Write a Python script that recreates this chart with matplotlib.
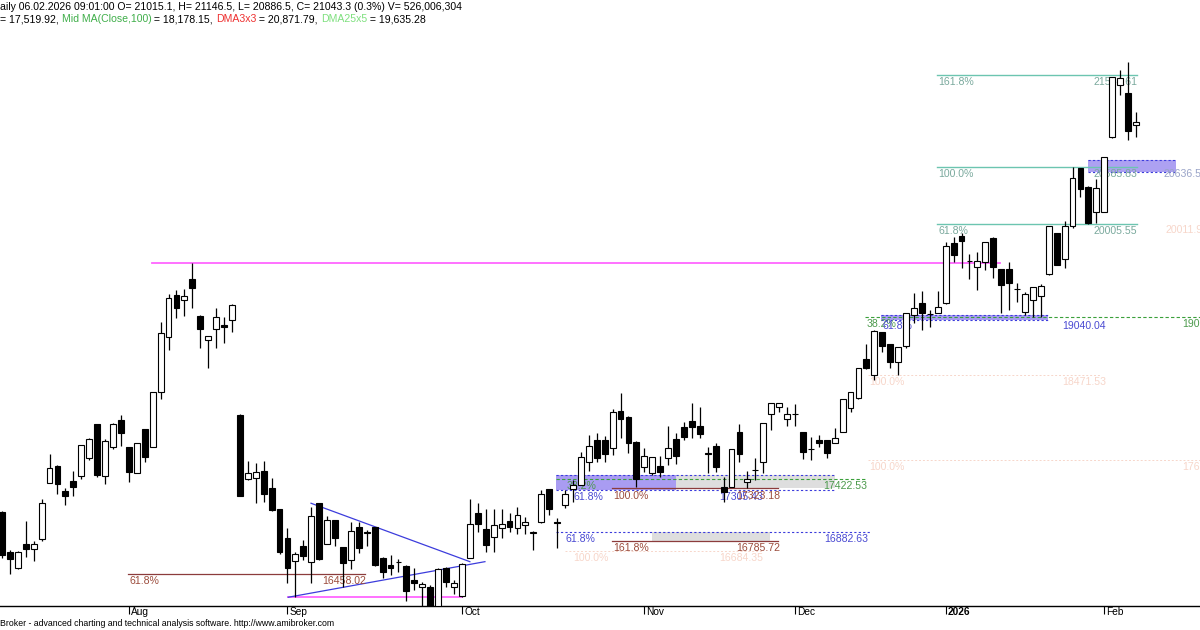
import matplotlib
matplotlib.use('Agg')
import matplotlib.pyplot as plt
from matplotlib.patches import Rectangle

# ---------------- data (daily candles, Jul 2025 - Feb 2026) ----------------
opens = [
    17088, 16682, 16519, 16760, 16709, 16811, 17382, 17555, 17301, 17402,
    17450, 17633, 17975, 17453, 17741, 18019, 17741, 17484, 17927, 17741,
    18300, 18861, 19287, 19237, 19450, 19074, 18831, 18939, 18983, 19031,
    18069, 17417, 17433, 17504, 17325, 17112, 16818, 16587, 16740, 16580,
    17173, 16760, 17004, 16726, 16598, 16929, 16882, 16929, 16621, 16550,
    16580, 16540, 16392, 16327, 16324, 16131, 16519, 16327, 16235, 16621,
    17072, 16909, 16834, 16925, 16996, 16919, 16953, 16869, 16986, 17315,
    16983, 17156, 17318, 17359, 17595, 17816, 17816, 17731, 18110, 18052,
    17798, 17538, 17478, 17555, 17630, 17826, 17951, 18011, 17961, 17687,
    17758, 17342, 17342, 17900, 17392, 17511, 17589, 18076, 18147, 18026,
    18076, 17894, 17721, 17816, 17816, 17782, 17900, 18137, 18239, 18638,
    18475, 18907, 18787, 18602, 18770, 19079, 19203, 19091, 19108, 19203,
    19818, 19889, 19632, 19575, 19619, 19869, 19548, 19548, 19345, 19118,
    19237, 19280, 19497, 19914, 19653, 19991, 20573, 20387, 20127, 20133,
    20894, 21419, 21335, 21015.1]
highs = [
    17095, 16699, 16689, 16993, 16790, 17217, 17676, 17560, 17328, 17501,
    17765, 17839, 17980, 17823, 17985, 18069, 17745, 17788, 17930, 18303,
    19016, 19294, 19338, 19348, 19609, 19080, 18875, 19152, 19067, 19193,
    18075, 17605, 17579, 17605, 17433, 17115, 16925, 16682, 16800, 17132,
    17179, 17044, 17005, 16730, 16986, 16986, 16902, 16935, 16625, 16648,
    16605, 16545, 16516, 16371, 16344, 16513, 16525, 16395, 16570, 17217,
    17173, 17112, 17112, 17112, 17078, 17132, 17037, 16890, 17308, 17320,
    17021, 17308, 17410, 17697, 17866, 17884, 17859, 18127, 18290, 18055,
    17800, 17731, 17640, 17656, 17961, 17884, 18001, 18188, 18154, 17748,
    17782, 17437, 17721, 17975, 17501, 17630, 17985, 18188, 18195, 18147,
    18178, 17900, 17849, 17866, 17820, 17934, 18229, 18306, 18543, 18787,
    18932, 18910, 18790, 18756, 19102, 19305, 19328, 19135, 19328, 19828,
    19879, 19914, 19700, 19721, 19822, 19875, 19555, 19619, 19406, 19315,
    19372, 19396, 19991, 19920, 20038, 20590, 20576, 20390, 20465, 20691,
    21503, 21571, 21649, 21146.5]
lows = [
    16618, 16455, 16506, 16631, 16587, 16790, 17375, 17267, 17156, 17247,
    17420, 17612, 17443, 17366, 17724, 17758, 17392, 17480, 17595, 17740,
    18232, 18726, 19051, 19074, 19158, 18746, 18543, 18752, 18797, 18915,
    17245, 17410, 17173, 17183, 17095, 16658, 16364, 16219, 16598, 16361,
    16600, 16755, 16740, 16327, 16503, 16666, 16743, 16540, 16412, 16445,
    16479, 16184, 16293, 16131, 16070, 16070, 16327, 16252, 16219, 16615,
    16885, 16682, 16682, 16818, 16885, 16861, 16861, 16699, 16970, 17054,
    16716, 17125, 17189, 17355, 17504, 17595, 17595, 17663, 17833, 17687,
    17342, 17494, 17460, 17443, 17562, 17572, 17816, 17833, 17833, 17484,
    17494, 17189, 17335, 17595, 17325, 17410, 17478, 17917, 18097, 17958,
    17958, 17620, 17613, 17748, 17630, 17780, 17895, 18103, 18235, 18538,
    18425, 18712, 18543, 18475, 18746, 19000, 18932, 18966, 19105, 19200,
    19625, 19558, 19450, 19338, 19541, 19457, 19102, 19135, 19219, 19084,
    19067, 19067, 19490, 19587, 19558, 19970, 20285, 20010, 20015, 20130,
    20878, 21317, 20861, 20886.5]
closes = [
    16648, 16608, 16682, 16709, 16760, 17176, 17531, 17372, 17244, 17335,
    17765, 17823, 17460, 17805, 17975, 17890, 17488, 17788, 17640, 18300,
    18899, 19254, 19152, 19274, 19355, 18942, 18871, 19067, 18966, 19186,
    17250, 17484, 17494, 17270, 17102, 16682, 16513, 16658, 16638, 17047,
    16605, 17004, 16818, 16570, 16892, 16722, 16872, 16547, 16479, 16513,
    16577, 16280, 16367, 16354, 16131, 16503, 16377, 16361, 16554, 16960,
    16960, 16750, 16953, 16960, 16929, 17054, 16980, 16885, 17264, 17115,
    16973, 17264, 17359, 17646, 17755, 17636, 17673, 18103, 18029, 17782,
    17417, 17656, 17640, 17494, 17731, 17653, 17849, 17951, 17876, 17670,
    17545, 17291, 17721, 17673, 17417, 17515, 17985, 18188, 18188, 18076,
    18080, 17691, 17724, 17788, 17681, 17833, 18229, 18306, 18543, 18543,
    18925, 18765, 18610, 18756, 19102, 19155, 19102, 19089, 19162, 19785,
    19693, 19835, 19627, 19635, 19822, 19575, 19389, 19406, 19343, 19294,
    19372, 19379, 19991, 19592, 19991, 20472, 20363, 20015, 20370, 20691,
    21503, 21493, 20952, 21043.3]

month_labels = ['Aug', 'Sep', 'Oct', 'Nov', 'Dec', '2026', 'Feb']
month_bars = [16, 36, 58, 81, 100, 119, 139]

header1 = [("aily 06.02.2026 09:01:00 O= 21015.1, H= 21146.5, L= 20886.5, C= 21043.3 (0.3%) V= 526,006,304", 'black')]
header2 = [("= 17,519.92, ", 'black'), ("Mid MA(Close,100)", '#3fae49'), (" = 18,178.15, ", 'black'),
           ("DMA3x3", '#ee3030'), (" = 20,871.79, ", 'black'), ("DMA25x5", '#7fe07f'), (" = 19,635.28", 'black')]
footer = "Broker - advanced charting and technical analysis software. http://www.amibroker.com"

# ---------------- figure ----------------
W, H = 1200, 630
fig = plt.figure(figsize=(W / 100, H / 100), dpi=100)
ax = fig.add_axes([0, 24 / H, 1, (602 - 24) / H])
ax.set_xlim(-0.25, 151.07)
ax.set_ylim(16130, 21997)
for s in ['top', 'left', 'right']:
    ax.spines[s].set_visible(False)
ax.spines['bottom'].set_linewidth(1.0)
ax.set_yticks([])
ax.set_xticks(month_bars)
ax.set_xticklabels([])
ax.tick_params(axis='x', direction='out', length=6, width=0.8, color='black')

LF = ['Liberation Sans', 'DejaVu Sans']
NF = ['Liberation Sans Narrow', 'Liberation Sans', 'DejaVu Sans']
FS = 7.6

# ---------------- candles ----------------
n = len(closes)
for i in range(n):
    o, h, l, c = opens[i], highs[i], lows[i], closes[i]
    ax.plot([i, i], [l, h], color='black', lw=0.9, zorder=5, solid_capstyle='butt')
    lo, hi = min(o, c), max(o, c)
    fc = 'white' if c >= o else 'black'
    ax.add_patch(Rectangle((i - 0.37, lo), 0.74, max(hi - lo, 1), facecolor=fc,
                           edgecolor='black', lw=0.8, zorder=6))


def lab(x, y, s, color, ha='left', dy=-1.5, dx=1):
    ax.annotate(s, (x, y), xytext=(dx, dy), textcoords='offset points', ha=ha, va='top',
                color=color, fontsize=FS, family=LF, zorder=3, annotation_clip=False)


def hline(x0, x1, y, color, ls='-', lw=1.0, z=2):
    ax.plot([x0, x1], [y, y], color=color, ls=ls, lw=lw, zorder=z)


TEAL, TEALT = '#6cc5b0', '#7aa99d'
BLUE, BLUET = '#3c3cdc', '#4a4ad2'
GREEN, GREENT = '#3aa03a', '#4c9a4c'
DRED, DREDT = '#8c3c3c', '#9c4c3c'
PURP = '#a99cf2'
GRAY = '#dedede'
MAG = '#ff66ff'
FAINT = '#f7d6ca'

# magenta horizontal lines
hline(18.9, 125.9, 19609, MAG, lw=1.3)
hline(36.1, 58.0, 16219, MAG, lw=1.3)

# brown fib 61.8%
hline(15.9, 45.8, 16458.02, DRED, lw=0.9)
lab(15.9, 16458.02, '61.8%', DREDT)
lab(45.8, 16458.02, '16458.02', DREDT, ha='right')

# triangle
ax.plot([38.97, 59.0], [17173, 16580], color=BLUE, lw=0.9, zorder=2)
ax.plot([36.1, 60.9], [16219, 16580], color=BLUE, lw=0.9, zorder=2)

# Oct-Nov cluster
ax.add_patch(Rectangle((69.9, 17305.43), 85.0 - 69.9, 17460 - 17305.43, facecolor=PURP, edgecolor='none', zorder=1))
ax.add_patch(Rectangle((85.0, 17328), 105.0 - 85.0, 17460 - 17328, facecolor=GRAY, edgecolor='none', zorder=1))
hline(69.9, 105.0, 17460, BLUE, ls=(0, (2, 2)), lw=0.8)
hline(69.9, 108.8, 17422.53, GREEN, ls=(0, (3, 2)), lw=0.8)
lab(71.0, 17422.53, '38.2%', GREENT)
lab(108.9, 17422.53, '17422.53', GREENT, ha='right')
hline(69.9, 105.0, 17305.43, BLUE, ls=(0, (2, 2)), lw=0.8)
lab(71.9, 17305.43, '61.8%', BLUET)
lab(90.3, 17305.43, '17305.43', BLUET)
hline(76.9, 97.9, 17323.18, DRED, lw=0.9)
lab(76.9, 17323.18, '100.0%', DREDT)
lab(97.9, 17323.18, '17323.18', DREDT, ha='right')
ax.add_patch(Rectangle((82.0, 16785.72), 96.8 - 82.0, 16882.63 - 16785.72, facecolor=GRAY, edgecolor='none', zorder=1))
hline(69.9, 109.5, 16882.63, BLUE, ls=(0, (2, 2)), lw=0.8)
lab(70.9, 16882.63, '61.8%', BLUET)
lab(109.0, 16882.63, '16882.63', BLUET, ha='right')
hline(76.9, 97.9, 16785.72, DRED, lw=0.9)
lab(76.9, 16785.72, '161.8%', DREDT)
lab(97.9, 16785.72, '16785.72', DREDT, ha='right')
hline(71.0, 96.0, 16689, FAINT, ls=(0, (2, 2)), lw=0.7, z=1)
lab(71.9, 16689, '100.0%', FAINT)
lab(90.3, 16689, '16684.35', FAINT)

# Dec-Jan cluster
ax.add_patch(Rectangle((110.9, 19030), 131.9 - 110.9, 19088 - 19030, facecolor=PURP, edgecolor='none', zorder=1))
hline(110.9, 131.9, 19088, BLUE, ls=(0, (2, 2)), lw=0.8)
hline(110.9, 131.9, 19030, BLUE, ls=(0, (2, 2)), lw=0.8)
hline(108.8, 152, 19066.77, GREEN, ls=(0, (3, 2)), lw=0.8)
lab(108.9, 19066.77, '38.2%', GREENT)
lab(148.6, 19066.77, '19066.77', GREENT)
lab(110.9, 19040.04, '61.8%', BLUET)
lab(133.5, 19040.04, '19040.04', BLUET)
hline(109.2, 138.5, 18471.53, FAINT, ls=(0, (2, 2)), lw=0.7, z=1)
lab(109.2, 18471.53, '100.0%', FAINT)
lab(133.5, 18471.53, '18471.53', FAINT)
hline(109.2, 152, 17612, FAINT, ls=(0, (2, 2)), lw=0.7, z=1)
lab(109.2, 17612, '100.0%', FAINT)
lab(148.6, 17612, '17612.50', FAINT)

# teal fib (top right)
for lev, pct, txt in [(21524.61, '161.8%', '21524.61'), (20585.83, '100.0%', '20585.83'),
                      (20005.55, '61.8%', '20005.55')]:
    hline(117.9, 143.1, lev, TEAL, lw=1.0)
    lab(117.9, lev, pct, TEALT)
    lab(143.0, lev, txt, TEALT, ha='right')
lab(146.6, 20018, '20011.90', FAINT)
ax.add_patch(Rectangle((137.0, 20539), 148.0 - 137.0, 20657 - 20539, facecolor=PURP, edgecolor='none', zorder=1.5, alpha=0.95))
hline(137.0, 148.0, 20657, BLUE, ls=(0, (2, 2)), lw=0.8)
hline(137.0, 148.0, 20539, BLUE, ls=(0, (2, 2)), lw=0.8)
lab(146.3, 20585.83, '20636.57', '#9aa4c8')

# month labels
for b, m in zip(month_bars, month_labels):
    ax.annotate(m, (b, 0), xycoords=('data', 'axes fraction'), xytext=(1.5, -1), textcoords='offset points',
                ha='left', va='top', fontsize=7.3, family=NF, color='black',
                fontweight='bold' if m == '2026' else 'normal', annotation_clip=False)

# ---------------- header / footer ----------------
renderer = fig.canvas.get_renderer()


def segs(y_px, parts, fs):
    x = 0.0
    for s, col in parts:
        t = fig.text(x / W, 1 - y_px / H, s, color=col, fontsize=fs, family=LF, ha='left', va='center')
        x += t.get_window_extent(renderer).width


segs(7, header1, 7.55)
segs(19, header2, 7.55)
fig.text(0, 1 - 624 / H, footer, fontsize=6.35, family=NF, ha='left', va='center', color='black')

fig.savefig('out.png', dpi=100)
